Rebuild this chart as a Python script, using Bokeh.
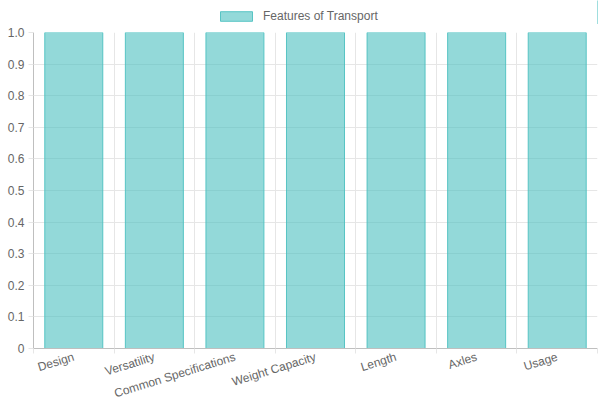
from bokeh.plotting import figure
from bokeh.layouts import column
from bokeh.models import Range1d, FixedTicker, Legend, LegendItem, ColumnDataSource
from bokeh.embed import file_html
from bokeh.resources import INLINE

categories = ["Design", "Versatility", "Common Specifications", "Weight Capacity",
              "Length", "Axles", "Usage"]
values = [1, 1, 1, 1, 1, 1, 1]
series_name = "Features of Transport"
y_ticks = [0, 0.1, 0.2, 0.3, 0.4, 0.5, 0.6, 0.7, 0.8, 0.9, 1.0]

n = len(categories)
centers = list(range(n))
bounds = [i - 0.5 for i in range(n + 1)]

FONT = "Liberation Sans"
TXT = "#666666"
FILL = "rgb(75,192,192)"

# ---- legend strip on top ----
lg = figure(width=600, height=24, output_backend="svg", toolbar_location=None,
            x_range=Range1d(0, 1), y_range=Range1d(0, 1),
            min_border=0, x_axis_type=None, y_axis_type=None)
lg.outline_line_color = None
lg.xgrid.visible = False
lg.ygrid.visible = False
# swatch renderer kept outside the visible range; only its legend glyph shows
swatch = lg.vbar(x=[5], top=[1], width=0.5, fill_color=FILL, fill_alpha=0.6,
                 line_color=FILL, line_alpha=0.9, line_width=1)
legend = Legend(items=[LegendItem(label=series_name, renderers=[swatch])],
                orientation="horizontal", location=(183, 1),
                glyph_width=40, glyph_height=12, label_standoff=7,
                label_text_font=FONT, label_text_font_size="12px",
                label_text_color=TXT, padding=0, margin=0, spacing=0,
                border_line_color=None, background_fill_alpha=0)
lg.add_layout(legend, "center")

# ---- main chart ----
p = figure(width=600, height=376, frame_width=564, frame_height=316,
           output_backend="svg", toolbar_location=None,
           x_range=Range1d(-0.5, n - 0.5), y_range=Range1d(0, 1),
           min_border_left=33, min_border_right=3, min_border_top=8, min_border_bottom=0)
p.outline_line_color = None

src = ColumnDataSource(dict(x=centers, top=values, cat=categories))
p.vbar(x="x", top="top", bottom=0, width=0.72, source=src,
       fill_color=FILL, fill_alpha=0.6,
       line_color=FILL, line_alpha=0.9, line_width=1)

xa = p.xaxis[0]
xa.ticker = FixedTicker(ticks=centers, minor_ticks=bounds)
xa.major_label_overrides = {c: lab for c, lab in zip(centers, categories)}
xa.major_tick_line_color = None
xa.major_tick_in = 0
xa.major_tick_out = 0
xa.minor_tick_line_color = "#e6e6e6"
xa.minor_tick_in = 0
xa.minor_tick_out = 5
xa.axis_line_color = "#bfbfbf"
xa.major_label_orientation = 0.3
xa.major_label_text_font = FONT
xa.major_label_text_font_size = "12px"
xa.major_label_text_color = TXT
xa.major_label_text_line_height = 1.0
xa.major_label_standoff = 3

ya = p.yaxis[0]
ya.ticker = FixedTicker(ticks=y_ticks)
ya.major_label_overrides = {0: "0", 1: "1.0"}
ya.major_tick_line_color = "#e6e6e6"
ya.major_tick_in = 0
ya.major_tick_out = 5
ya.minor_tick_line_color = None
ya.axis_line_color = "#bfbfbf"
ya.major_label_text_font = FONT
ya.major_label_text_font_size = "12px"
ya.major_label_text_color = TXT
ya.major_label_standoff = 4

p.xgrid.ticker = FixedTicker(ticks=bounds)
p.xgrid.grid_line_color = "#e6e6e6"
p.ygrid.ticker = FixedTicker(ticks=y_ticks)
p.ygrid.grid_line_color = "#e6e6e6"

layout = column(lg, p, spacing=0)
open("out.html", "w").write(file_html(layout, INLINE))
